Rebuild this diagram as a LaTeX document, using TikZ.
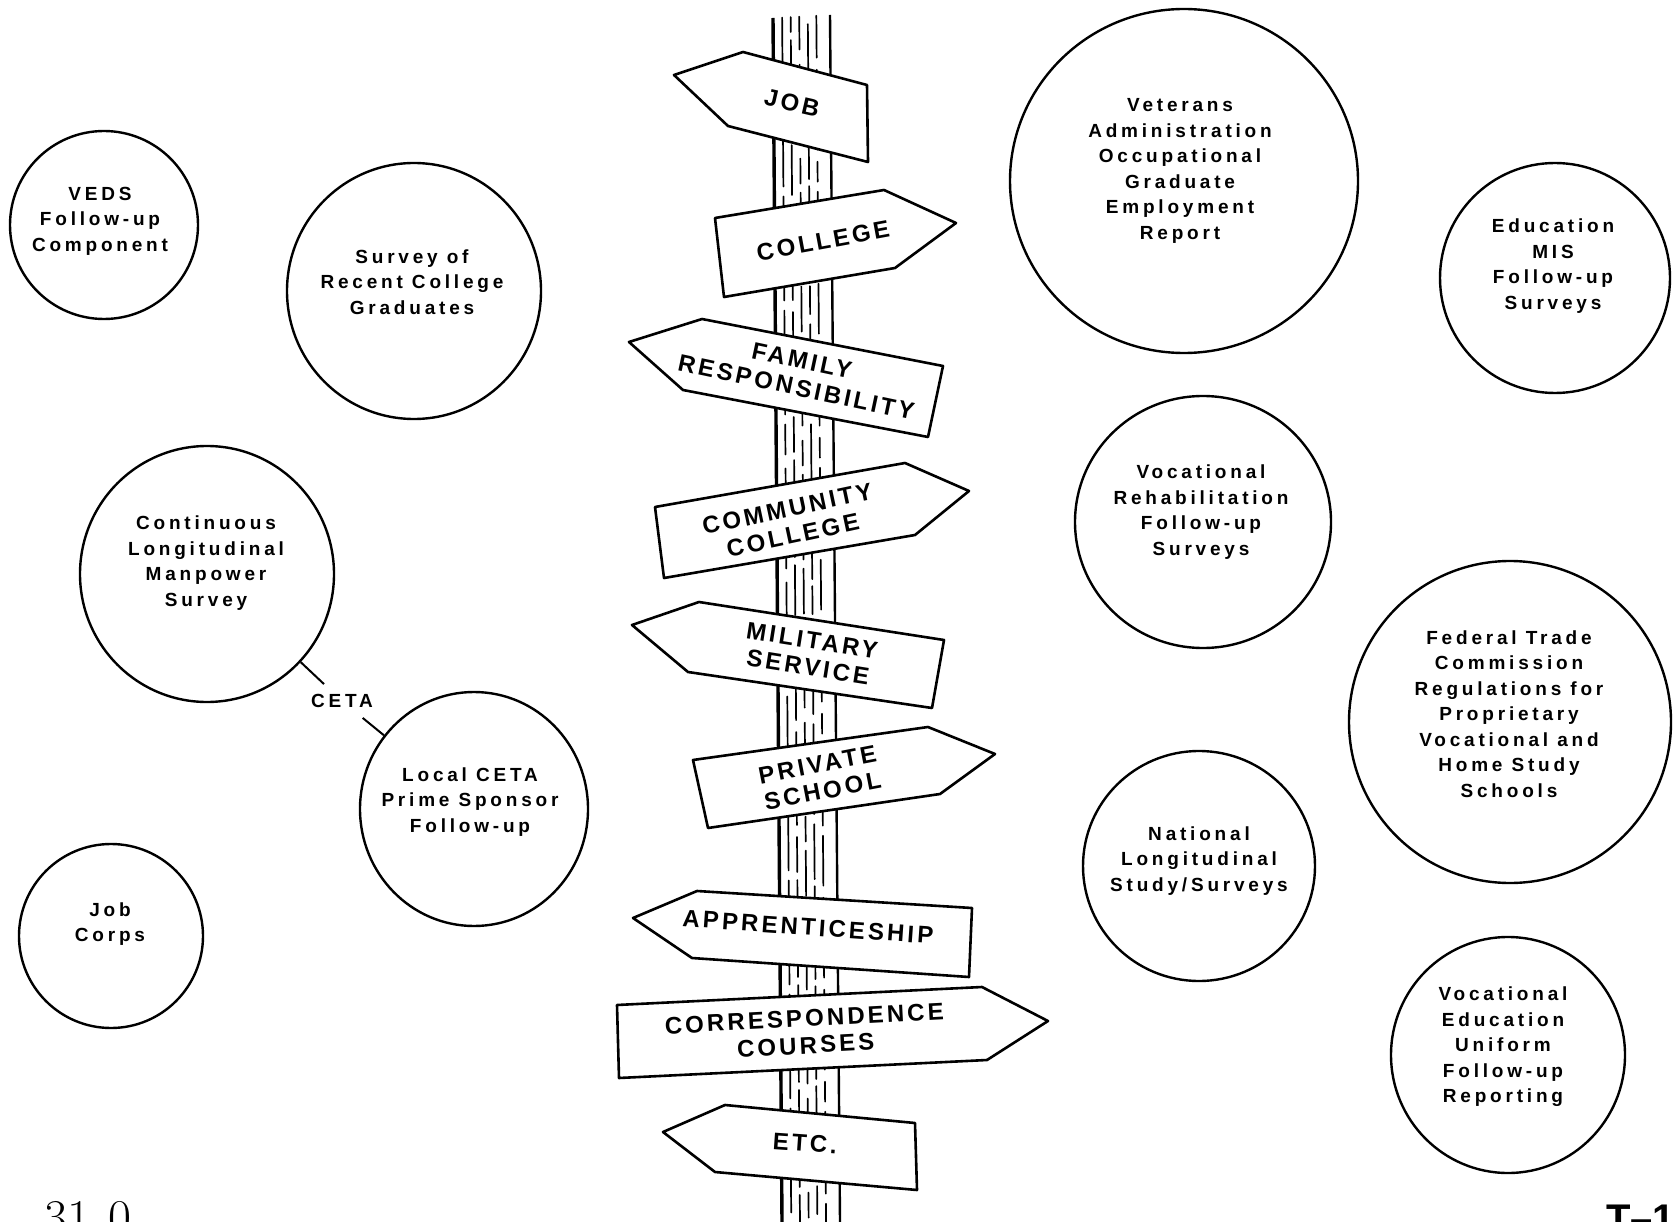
\documentclass[tikz,border=0pt]{standalone}
\usepackage{fontspec}
\setsansfont{Liberation Sans}
\newfontfamily\bubblefont{Liberation Sans}[LetterSpace=20]
\newfontfamily\signfont{Liberation Sans}[LetterSpace=13]
\usetikzlibrary{shapes.geometric,calc}

\begin{document}
\begin{tikzpicture}[x=1pt,y=-1pt,
  bubble/.style={ellipse,draw,line width=2.4pt,inner sep=0pt},
  blurb/.style={align=center,inner sep=0pt,font=\bubblefont\bfseries\fontsize{19}{25.5}\selectfont},
  board/.style={draw,fill=white,line width=2.6pt,line join=round},
  sign/.style={align=center,inner sep=0pt,font=\signfont\bfseries\fontsize{24}{27}\selectfont}]
\useasboundingbox (0,0) rectangle (1676,1222);
\clip (0,0) rectangle (1676,1222);

% the post
\coordinate (ptl) at (773,18);
\coordinate (ptr) at (830,15);
\coordinate (pbl) at (782,1222);
\coordinate (pbr) at (840,1222);
\fill[white] (ptl) -- (ptr) -- (pbr) -- (pbl) -- cycle;
\foreach \f/\pat/\ph in {0.16/{on 60pt off 10pt on 30pt off 14pt}/5pt,
                         0.31/{on 35pt off 8pt on 50pt off 12pt}/20pt,
                         0.46/{on 45pt off 15pt on 25pt off 9pt}/12pt,
                         0.61/{on 28pt off 10pt on 55pt off 7pt}/30pt,
                         0.76/{on 50pt off 12pt on 20pt off 10pt}/8pt}
  \draw[line width=1.7pt,line cap=round,dash pattern/.expanded=\pat,dash phase=\ph]
    ($(ptl)!\f!(ptr)$) -- ($(pbl)!\f!(pbr)$);
\draw[line width=3.4pt] (ptl) -- (pbl);
\draw[line width=2.4pt] (ptr) -- (pbr);

% the boards
\draw[board] (674,75) -- (743,52) -- (867,85) -- (868,162) -- (728,126) -- cycle;
\node[sign,rotate=-13] (job) at (792,103) {JOB};
\draw[board] (715,218) -- (884,190) -- (956,223) -- (895,268) -- (724,297) -- cycle;
\node[sign,rotate=10.5] (college) at (823,241) {COLLEGE};
\draw[board] (629,342) -- (702,319) -- (943,366) -- (928,437) -- (683,390) -- cycle;
\node[sign,rotate=-12] (family) at (799,374) {FAMILY\\RESPONSIBILITY};
\draw[board] (655,507) -- (905,463) -- (969,491) -- (915,535) -- (664,578) -- cycle;
\node[sign,rotate=12] (commcoll) at (790,522) {COMMUNITY\\COLLEGE};
\draw[board] (632,625) -- (699,602) -- (944,640) -- (932,708) -- (688,672) -- cycle;
\node[sign,rotate=-9] (military) at (810,654) {MILITARY\\SERVICE};
\draw[board] (693,760) -- (928,727) -- (995,754) -- (940,794) -- (708,828) -- cycle;
\node[sign,rotate=11] (private) at (820,778) {PRIVATE\\SCHOOL};
\draw[board] (633,918) -- (697,891) -- (972,908) -- (969,977) -- (692,958) -- cycle;
\node[sign,rotate=-4] (appr) at (808,927) {APPRENTICESHIP};
\draw[board] (617,1005) -- (982,987) -- (1048,1021) -- (987,1060) -- (619,1078) -- cycle;
\node[sign,rotate=3] (corresp) at (805,1032) {CORRESPONDENCE\\COURSES};
\draw[board] (663,1132) -- (725,1105) -- (915,1123) -- (917,1190) -- (715,1172) -- cycle;
\node[sign,rotate=-4] (etc) at (805,1143) {ETC.};

% left side
\node[bubble,minimum width=188pt,minimum height=188pt] (veds) at (104,225) {};
\node[blurb] (vedst) at (100,221) {VEDS\\Follow-up\\Component};
\node[bubble,minimum width=254pt,minimum height=256pt] (survey) at (414,291) {};
\node[blurb] (surveyt) at (412,282) {Survey of\\Recent College\\Graduates};
\node[bubble,minimum width=254pt,minimum height=256pt] (clms) at (207,574) {};
\node[blurb] (clmst) at (206,563) {Continuous\\Longitudinal\\Manpower\\Survey};
\node[bubble,minimum width=228pt,minimum height=234pt] (local) at (474,809) {};
\node[blurb] (localt) at (470,802) {Local CETA\\Prime Sponsor\\Follow-up};
\node[bubble,minimum width=184pt,minimum height=184pt] (jobcorps) at (111,936) {};
\node[blurb] (jobcorpst) at (110,924) {Job\\Corps};
\node[blurb,inner xsep=2pt,inner ysep=10pt] (ceta) at (342,701) {CETA};
\draw[line width=2pt] (clms) -- (ceta);
\draw[line width=2pt] (ceta) -- (local);

% right side
\node[bubble,minimum width=348pt,minimum height=344pt] (va) at (1184,181) {};
\node[blurb] (vat) at (1180,171) {Veterans\\Administration\\Occupational\\Graduate\\Employment\\Report};
\node[bubble,minimum width=230pt,minimum height=230pt] (edmis) at (1555,278) {};
\node[blurb] (edmist) at (1553,266) {Education\\MIS\\Follow-up\\Surveys};
\node[bubble,minimum width=256pt,minimum height=252pt] (vocrehab) at (1203,522) {};
\node[blurb] (vocrehabt) at (1201,512) {Vocational\\Rehabilitation\\Follow-up\\Surveys};
\node[bubble,minimum width=322pt,minimum height=322pt] (ftc) at (1510,722) {};
\node[blurb] (ftct) at (1509,714) {Federal Trade\\Commission\\Regulations for\\Proprietary\\Vocational and\\Home Study\\Schools};
\node[bubble,minimum width=232pt,minimum height=230pt] (nls) at (1199,866) {};
\node[blurb] (nlst) at (1199,861) {National\\Longitudinal\\Study/Surveys};
\node[bubble,minimum width=234pt,minimum height=236pt] (vocedu) at (1508,1055) {};
\node[blurb] (vocedut) at (1503,1047) {Vocational\\Education\\Uniform\\Follow-up\\Reporting};

% page marks, cut by the edge
\node[anchor=base west,inner sep=0pt,font=\fontsize{50}{50}\selectfont] (folio) at (44,1234) {31\hspace{18pt}0};
\node[anchor=base west,inner sep=0pt,font=\sffamily\bfseries\fontsize{40}{40}\selectfont] (tag) at (1606,1232) {T--1};
\end{tikzpicture}
\end{document}
